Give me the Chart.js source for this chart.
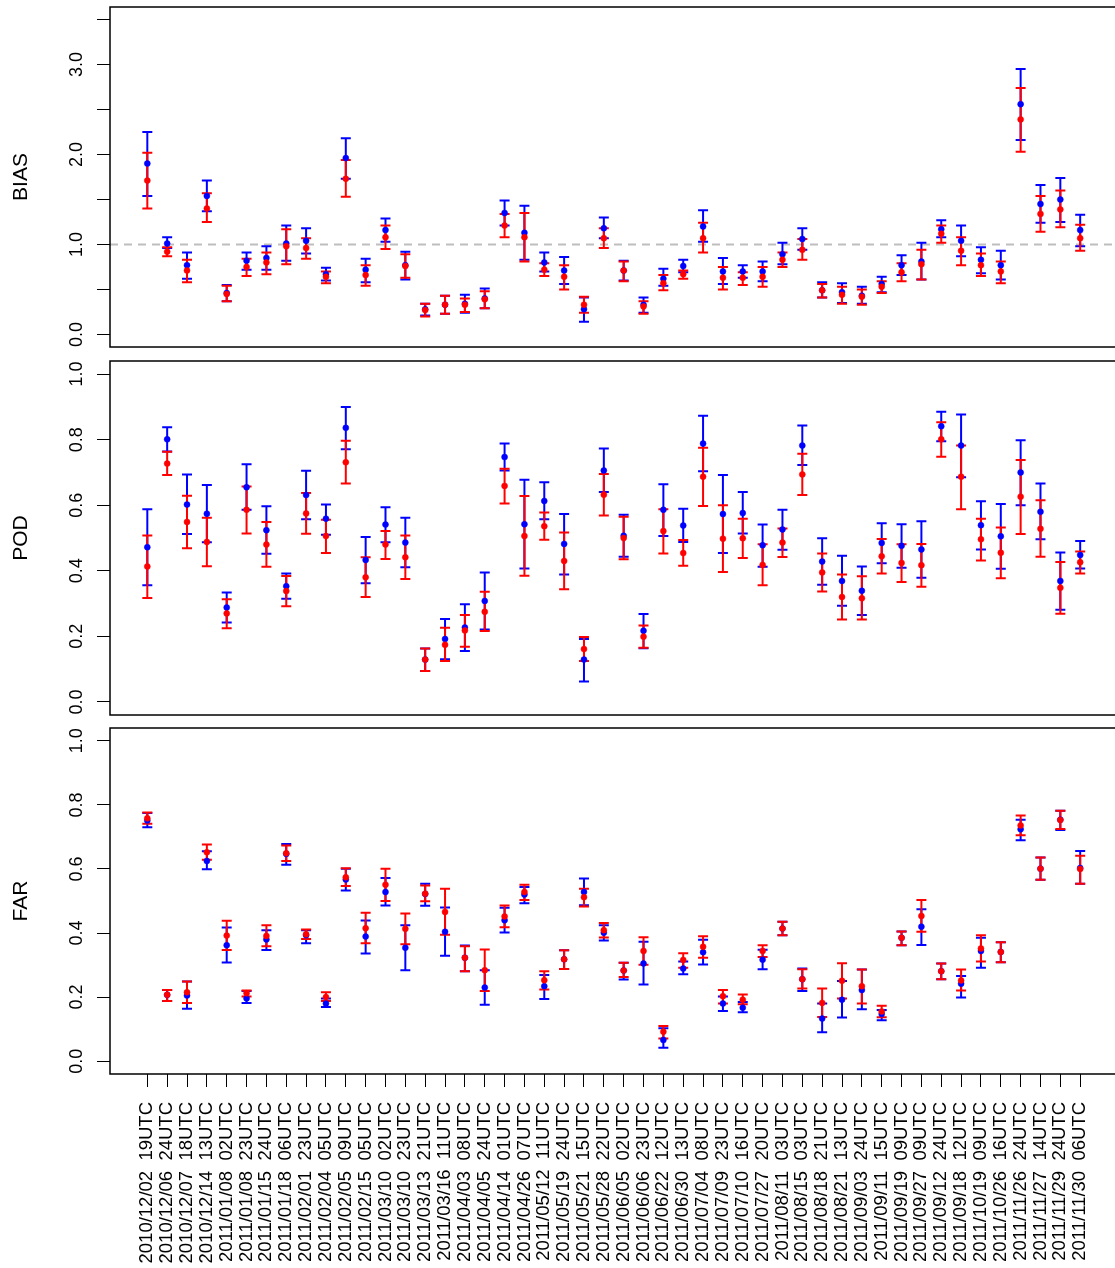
<!DOCTYPE html>
<html lang="en">
<head>
    <meta charset="UTF-8">
    <title>BIAS / POD / FAR</title>
    <script src="https://cdn.jsdelivr.net/npm/chart.js"></script>
    <style>
        html, body { margin: 0; padding: 0; background: #fff; overflow: hidden; }
        #wrap { position: relative; width: 1115px; height: 1268px; overflow: hidden; }
        canvas { position: absolute; left: 0; top: 0; }
    </style>
</head>
<body>
<div id="wrap">
    <canvas id="biasChart" width="1122" height="1268"></canvas>
    <canvas id="podChart" width="1122" height="1268"></canvas>
    <canvas id="farChart" width="1122" height="1268"></canvas>
</div>
<script>
    // case labels (date + hour)
    const caseDates = ['2010/12/02','2010/12/06','2010/12/07','2010/12/14','2011/01/08','2011/01/08','2011/01/15','2011/01/18',
        '2011/02/01','2011/02/04','2011/02/05','2011/02/15','2011/03/10','2011/03/10','2011/03/13','2011/03/16',
        '2011/04/03','2011/04/05','2011/04/14','2011/04/26','2011/05/12','2011/05/19','2011/05/21','2011/05/28',
        '2011/06/05','2011/06/06','2011/06/22','2011/06/30','2011/07/04','2011/07/09','2011/07/10','2011/07/27',
        '2011/08/11','2011/08/15','2011/08/18','2011/08/21','2011/09/03','2011/09/11','2011/09/19','2011/09/27',
        '2011/09/12','2011/09/18','2011/10/19','2011/10/26','2011/11/26','2011/11/27','2011/11/29','2011/11/30'];
    const caseHours = ['19','24','18','13','02','23','24','06','23','05','09','05','02','23','21','11',
        '08','24','01','07','11','24','15','22','02','23','12','13','08','23','16','20',
        '03','03','21','13','24','15','09','09','24','12','09','16','24','14','24','06'];

    // BIAS
    const biasBlue   = [1.90,1.01,0.77,1.54,0.46,0.82,0.85,1.01,1.04,0.67,1.96,0.72,1.16,0.77,0.28,0.33,0.34,0.40,1.35,1.13,0.80,0.71,0.28,1.18,0.71,0.33,0.62,0.76,1.20,0.70,0.70,0.70,0.89,1.06,0.49,0.47,0.43,0.56,0.77,0.81,1.17,1.04,0.83,0.77,2.56,1.45,1.50,1.16];
    const biasBlueLo = [1.54,0.96,0.62,1.37,0.37,0.72,0.72,0.82,0.90,0.60,1.73,0.58,1.03,0.61,0.21,0.23,0.24,0.29,1.21,0.83,0.70,0.56,0.14,1.07,0.60,0.24,0.54,0.69,1.03,0.56,0.63,0.59,0.78,0.94,0.41,0.35,0.34,0.47,0.66,0.61,1.08,0.87,0.68,0.61,2.16,1.24,1.25,0.98];
    const biasBlueHi = [2.25,1.08,0.91,1.71,0.55,0.91,0.98,1.21,1.18,0.74,2.18,0.84,1.29,0.92,0.34,0.43,0.44,0.51,1.49,1.43,0.91,0.86,0.41,1.30,0.82,0.41,0.73,0.83,1.38,0.85,0.77,0.81,1.02,1.18,0.58,0.57,0.53,0.64,0.88,1.02,1.27,1.21,0.97,0.93,2.95,1.66,1.74,1.33];
    const biasRed    = [1.71,0.92,0.71,1.40,0.45,0.75,0.80,0.98,0.96,0.64,1.73,0.66,1.08,0.76,0.27,0.33,0.33,0.39,1.21,1.08,0.72,0.64,0.33,1.07,0.71,0.31,0.57,0.67,1.07,0.63,0.63,0.64,0.83,0.94,0.49,0.44,0.42,0.53,0.69,0.78,1.12,0.93,0.77,0.70,2.39,1.34,1.39,1.07];
    const biasRedLo  = [1.40,0.87,0.58,1.25,0.37,0.65,0.67,0.78,0.84,0.57,1.53,0.54,0.95,0.63,0.20,0.23,0.25,0.29,1.08,0.81,0.65,0.50,0.24,0.96,0.59,0.23,0.49,0.62,0.91,0.50,0.55,0.53,0.75,0.83,0.41,0.34,0.33,0.46,0.59,0.61,1.02,0.77,0.65,0.57,2.03,1.14,1.19,0.93];
    const biasRedHi  = [2.02,0.97,0.83,1.57,0.54,0.84,0.91,1.17,1.07,0.70,1.94,0.77,1.21,0.89,0.34,0.43,0.40,0.48,1.34,1.35,0.79,0.77,0.42,1.18,0.81,0.37,0.66,0.71,1.24,0.75,0.69,0.75,0.91,1.06,0.56,0.53,0.50,0.59,0.79,0.94,1.21,1.08,0.90,0.81,2.74,1.54,1.60,1.22];

    // POD
    const podBlue   = [.472,.801,.602,.574,.288,.655,.524,.353,.631,.559,.836,.433,.541,.486,.129,.192,.227,.308,.747,.542,.613,.482,.129,.706,.507,.217,.586,.538,.788,.573,.576,.478,.526,.782,.428,.369,.339,.485,.476,.465,.841,.782,.539,.505,.700,.580,.369,.448];
    const podBlueLo = [.356,.764,.512,.487,.242,.586,.452,.315,.557,.510,.771,.362,.487,.411,.094,.130,.155,.221,.706,.407,.557,.389,.062,.640,.443,.164,.506,.488,.704,.454,.514,.412,.464,.723,.357,.293,.265,.423,.409,.379,.795,.685,.465,.406,.600,.496,.281,.407];
    const podBlueHi = [.588,.838,.694,.662,.334,.725,.597,.392,.705,.602,.900,.503,.594,.562,.163,.253,.298,.395,.788,.678,.670,.573,.192,.773,.571,.268,.664,.589,.873,.692,.640,.541,.586,.843,.499,.446,.413,.545,.542,.551,.885,.877,.612,.604,.798,.666,.456,.491];
    const podRed    = [.413,.727,.549,.488,.270,.586,.480,.338,.575,.506,.731,.380,.480,.441,.129,.174,.218,.275,.659,.506,.536,.430,.161,.632,.500,.199,.521,.454,.687,.498,.499,.418,.486,.694,.395,.320,.316,.444,.424,.417,.801,.687,.496,.455,.626,.528,.348,.426];
    const podRedLo  = [.317,.692,.469,.414,.225,.514,.412,.292,.513,.454,.666,.320,.436,.375,.094,.125,.168,.216,.605,.385,.495,.344,.125,.569,.435,.165,.453,.415,.598,.396,.439,.356,.442,.631,.337,.251,.251,.392,.366,.351,.748,.588,.431,.377,.512,.443,.269,.392];
    const podRedHi  = [.508,.763,.629,.562,.313,.657,.549,.384,.637,.556,.797,.441,.521,.508,.163,.226,.265,.336,.711,.628,.578,.517,.198,.695,.565,.233,.588,.494,.775,.600,.559,.481,.529,.757,.453,.389,.383,.497,.481,.482,.853,.782,.559,.532,.738,.615,.427,.459];

    // FAR
    const farBlue   = [.751,.207,.205,.625,.362,.196,.380,.647,.393,.180,.567,.389,.528,.354,.522,.404,.323,.230,.440,.520,.234,.318,.528,.401,.283,.305,.066,.289,.340,.180,.167,.317,.414,.256,.133,.192,.222,.147,.385,.420,.281,.242,.344,.341,.724,.601,.754,.603];
    const farBlueLo = [.730,.188,.164,.599,.308,.182,.347,.613,.368,.169,.533,.336,.486,.284,.485,.329,.281,.176,.402,.493,.194,.288,.487,.377,.255,.239,.042,.271,.302,.157,.153,.287,.393,.219,.090,.136,.162,.128,.362,.363,.256,.199,.292,.309,.690,.566,.722,.554];
    const farBlueHi = [.775,.222,.249,.655,.417,.219,.409,.678,.409,.196,.601,.439,.572,.424,.554,.480,.361,.284,.479,.544,.269,.346,.570,.424,.307,.373,.103,.311,.379,.202,.185,.348,.435,.289,.180,.250,.286,.160,.405,.474,.305,.266,.385,.371,.754,.636,.782,.656];
    const farRed    = [.758,.207,.215,.652,.392,.212,.391,.649,.396,.200,.574,.415,.551,.413,.523,.466,.323,.284,.452,.528,.253,.318,.512,.409,.283,.344,.092,.316,.357,.203,.192,.344,.414,.256,.182,.251,.234,.155,.385,.453,.281,.252,.352,.341,.736,.601,.753,.600];
    const farRedLo  = [.741,.188,.182,.629,.347,.202,.359,.625,.381,.188,.547,.368,.500,.365,.499,.395,.281,.219,.418,.503,.224,.288,.483,.386,.263,.301,.071,.292,.323,.180,.178,.325,.393,.227,.138,.196,.180,.137,.362,.404,.256,.221,.311,.309,.705,.566,.725,.554];
    const farRedHi  = [.776,.222,.249,.676,.438,.221,.424,.673,.411,.215,.602,.463,.601,.461,.548,.538,.359,.349,.486,.551,.281,.346,.538,.431,.307,.387,.110,.337,.390,.222,.208,.362,.435,.287,.227,.306,.286,.173,.405,.503,.305,.286,.393,.371,.767,.636,.782,.641];

    const biasTicks = [0, 0.5, 1, 1.5, 2, 2.5, 3, 3.5];
    const unitTicks = [0, 0.2, 0.4, 0.6, 0.8, 1.0];
    const biasRef = 1.0;

    const caseLabels = caseDates.map((d, i) => d + '  ' + caseHours[i] + 'UTC');

    Chart.defaults.font.family = '"Liberation Sans", Arial, Helvetica, sans-serif';
    Chart.defaults.color = '#000';

    // error bars, reference line and frame
    const panelDeco = {
        id: 'panelDeco',
        beforeDatasetsDraw(chart, args, opts) {
            const { ctx, chartArea: a, scales: { x, y } } = chart;
            ctx.save();
            if (opts.ref != null) {
                const py = y.getPixelForValue(opts.ref);
                ctx.strokeStyle = '#bebebe';
                ctx.lineWidth = 2;
                ctx.setLineDash([8, 6]);
                ctx.beginPath();
                ctx.moveTo(a.left, py);
                ctx.lineTo(a.right, py);
                ctx.stroke();
                ctx.setLineDash([]);
            }
            // blue bars first, red on top
            [1, 0].forEach(k => {
                const ds = chart.data.datasets[k];
                ctx.strokeStyle = ds.borderColor;
                ctx.lineWidth = 2;
                ds.errLo.forEach((lo, i) => {
                    const px = x.getPixelForValue(i);
                    const y1 = y.getPixelForValue(lo);
                    const y2 = y.getPixelForValue(ds.errHi[i]);
                    ctx.beginPath();
                    ctx.moveTo(px, y1); ctx.lineTo(px, y2);
                    ctx.moveTo(px - 5, y1); ctx.lineTo(px + 5, y1);
                    ctx.moveTo(px - 5, y2); ctx.lineTo(px + 5, y2);
                    ctx.stroke();
                });
            });
            ctx.restore();
        },
        afterDraw(chart) {
            const { ctx, chartArea: a } = chart;
            ctx.save();
            ctx.strokeStyle = '#000';
            ctx.lineWidth = 1.5;
            ctx.strokeRect(a.left, a.top, a.right - a.left, a.bottom - a.top);
            ctx.restore();
        }
    };

    function makePanel(id, p) {
        const toPts = arr => arr.map((v, i) => ({ x: i, y: v }));
        return new Chart(document.getElementById(id), {
            type: 'scatter',
            data: {
                datasets: [
                    { label: 'red', data: toPts(p.red), errLo: p.redLo, errHi: p.redHi,
                      backgroundColor: '#ff0000', borderColor: '#ff0000', pointRadius: 3, borderWidth: 0.5, order: 1 },
                    { label: 'blue', data: toPts(p.blue), errLo: p.blueLo, errHi: p.blueHi,
                      backgroundColor: '#0000ff', borderColor: '#0000ff', pointRadius: 3, borderWidth: 0.5, order: 2 }
                ]
            },
            options: {
                responsive: false,
                animation: false,
                events: [],
                layout: { padding: { top: p.top, bottom: p.showX ? 0 : 1268 - p.bottom, left: 0, right: 2 } },
                plugins: {
                    legend: { display: false },
                    tooltip: { enabled: false },
                    panelDeco: { ref: p.ref }
                },
                scales: {
                    x: {
                        type: 'linear',
                        min: -1.88,
                        max: 48.88,
                        display: p.showX,
                        afterBuildTicks: s => { s.ticks = caseLabels.map((_, i) => ({ value: i })); },
                        afterFit: s => {
                            s.height = p.showX ? 1268 - p.bottom : 0;
                            s.paddingLeft = 0; s.paddingRight = 0;
                        },
                        ticks: {
                            autoSkip: false, minRotation: 90, maxRotation: 90, padding: 15,
                            font: { size: 18.5 }, color: '#000',
                            callback: v => caseLabels[v]
                        },
                        grid: { drawOnChartArea: false, tickLength: 13, color: '#000', lineWidth: 1 },
                        border: { display: false }
                    },
                    y: {
                        type: 'linear',
                        min: p.min,
                        max: p.max,
                        afterBuildTicks: s => { s.ticks = p.ticks.map(v => ({ value: v })); },
                        afterFit: s => { s.width = 110; s.paddingTop = 0; s.paddingBottom = 0; },
                        ticks: {
                            autoSkip: false, minRotation: 90, maxRotation: 90, padding: 7,
                            crossAlign: 'center', font: { size: 18 }, color: '#000',
                            callback: p.fmt
                        },
                        grid: { drawOnChartArea: false, tickLength: 13, color: '#000', lineWidth: 1 },
                        border: { display: false },
                        title: { display: true, text: p.title, font: { size: 21 }, color: '#000', padding: { top: 9, bottom: 0 } }
                    }
                }
            },
            plugins: [panelDeco]
        });
    }

    makePanel('biasChart', {
        title: 'BIAS', top: 7, bottom: 347, min: -0.14, max: 3.64, ticks: biasTicks, ref: biasRef, showX: false,
        fmt: v => (v % 1 === 0 ? v.toFixed(1) : ''),
        blue: biasBlue, blueLo: biasBlueLo, blueHi: biasBlueHi, red: biasRed, redLo: biasRedLo, redHi: biasRedHi
    });
    makePanel('podChart', {
        title: 'POD', top: 361, bottom: 715, min: -0.04, max: 1.04, ticks: unitTicks, ref: null, showX: false,
        fmt: v => v.toFixed(1),
        blue: podBlue, blueLo: podBlueLo, blueHi: podBlueHi, red: podRed, redLo: podRedLo, redHi: podRedHi
    });
    makePanel('farChart', {
        title: 'FAR', top: 728, bottom: 1074, min: -0.04, max: 1.04, ticks: unitTicks, ref: null, showX: true,
        fmt: v => v.toFixed(1),
        blue: farBlue, blueLo: farBlueLo, blueHi: farBlueHi, red: farRed, redLo: farRedLo, redHi: farRedHi
    });
</script>
</body>
</html>
